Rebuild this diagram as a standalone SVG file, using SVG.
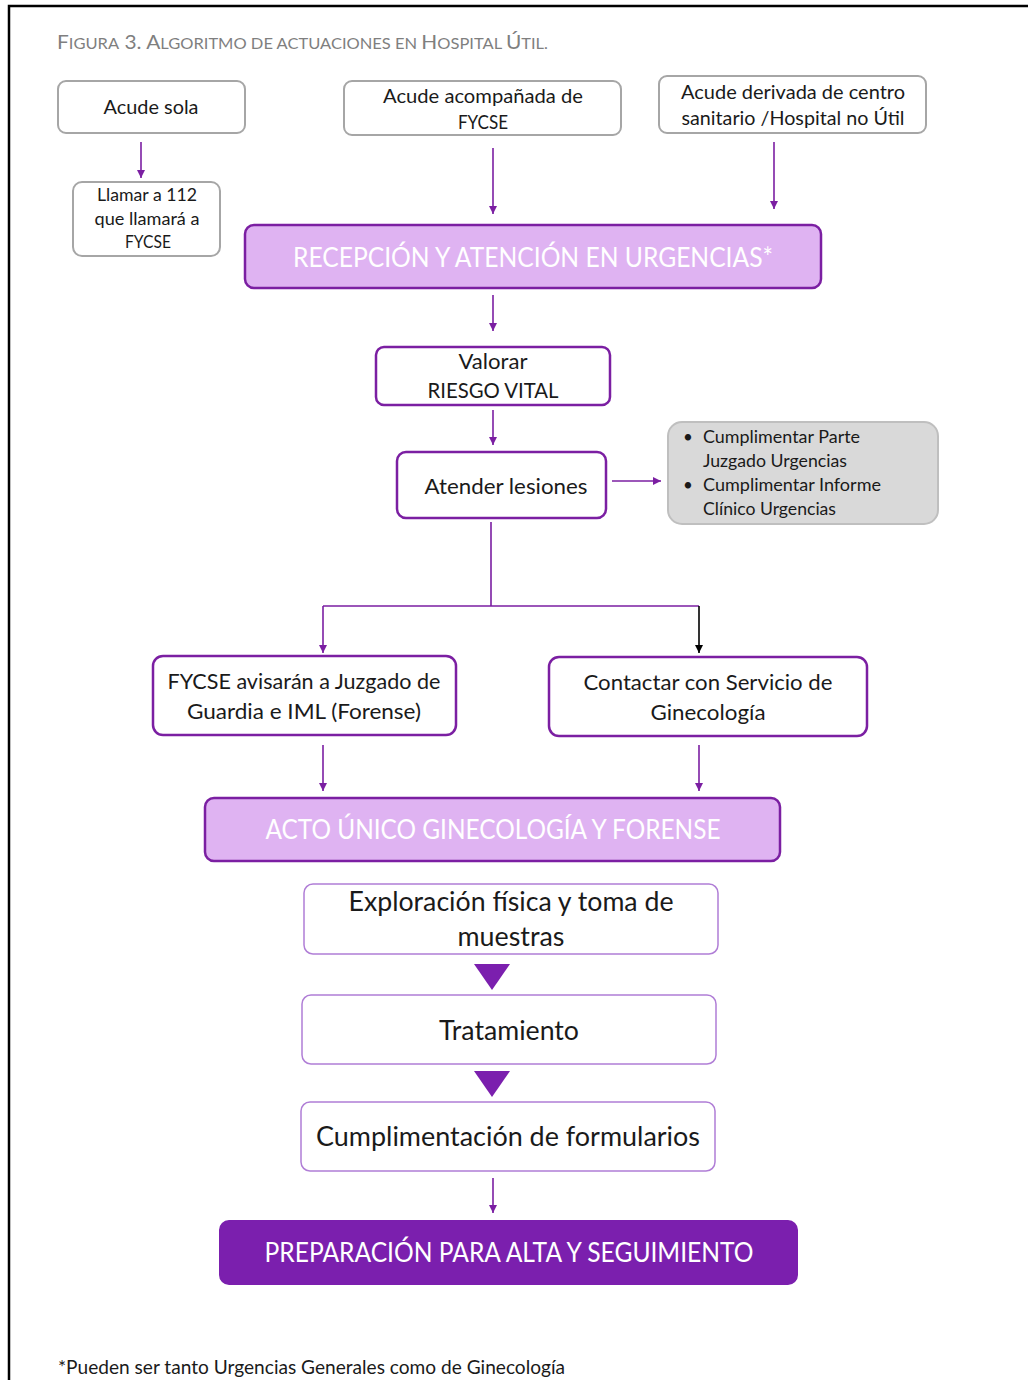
<svg xmlns="http://www.w3.org/2000/svg" width="1028" height="1380" viewBox="0 0 1028 1380">
<style>
text{font-family:Lato,"Open Sans","Liberation Sans",sans-serif;fill:#1a1a1a}
.title{fill:#7f7f7f}
.gb{fill:#fff;stroke:#a6a6a6;stroke-width:2}
.pb{fill:#fff;stroke:#7b1fa2;stroke-width:2.5}
.lb{fill:#fff;stroke:#b07ed6;stroke-width:1.5}
.hb{fill:#dfb3f2;stroke:#7b1fa2;stroke-width:2.5}
.db{fill:#7b1fae;stroke:#7b1fae;stroke-width:2}
.grey{fill:#d9d9d9;stroke:#bfbfbf;stroke-width:2}
.wt{fill:#fff}
.c{stroke:#7b1fa2;stroke-width:1.6;fill:none}
.ca{stroke:#7b1fa2;stroke-width:1.6;fill:none;marker-end:url(#ap)}
.ka{stroke:#000;stroke-width:1.6;fill:none;marker-end:url(#ak)}
.tri{fill:#7b1fae}
</style>
<defs>
<marker id="ap" markerUnits="userSpaceOnUse" markerWidth="9" markerHeight="8" refX="8" refY="4" orient="auto" viewBox="0 0 9 8"><path d="M0,0 L8,4 L0,8 z" fill="#7b1fa2"/></marker>
<marker id="ak" markerUnits="userSpaceOnUse" markerWidth="9" markerHeight="8" refX="8" refY="4" orient="auto" viewBox="0 0 9 8"><path d="M0,0 L8,4 L0,8 z" fill="#000"/></marker>
</defs>
<!-- page border -->
<path d="M9,1380 L9,6 L1028,6" fill="none" stroke="#000" stroke-width="2.5"/>
<!-- title -->
<text class="title" x="57" y="49" textLength="491" lengthAdjust="spacingAndGlyphs"><tspan font-size="19">F</tspan><tspan font-size="15">IGURA</tspan><tspan font-size="19"> 3. A</tspan><tspan font-size="15">LGORITMO DE ACTUACIONES EN </tspan><tspan font-size="19">H</tspan><tspan font-size="15">OSPITAL </tspan><tspan font-size="19">Ú</tspan><tspan font-size="15">TIL.</tspan></text>

<g id="connectors">
<line class="ca" x1="141" y1="142" x2="141" y2="178"/>
<line class="ca" x1="493" y1="148" x2="493" y2="214"/>
<line class="ca" x1="774" y1="142" x2="774" y2="209"/>
<line class="ca" x1="493" y1="295" x2="493" y2="331"/>
<line class="ca" x1="493" y1="410" x2="493" y2="445"/>
<line class="ca" x1="612" y1="481" x2="661" y2="481"/>
<path class="c" d="M491,522 L491,606 M323,606 L699,606"/>
<line class="ca" x1="323" y1="606" x2="323" y2="653"/>
<line class="ka" x1="699" y1="606" x2="699" y2="653"/>
<line class="ca" x1="323" y1="745" x2="323" y2="791"/>
<line class="ca" x1="699" y1="745" x2="699" y2="791"/>
<line class="ca" x1="493" y1="1178" x2="493" y2="1213"/>
<path class="tri" d="M474,964 L510,964 L492,990 z"/>
<path class="tri" d="M474,1071 L510,1071 L492,1097 z"/>
</g>

<g id="acude-sola"><rect class="gb" x="58" y="81" width="187" height="52" rx="8"/>
<text x="151" y="114" font-size="20" text-anchor="middle" textLength="95" lengthAdjust="spacingAndGlyphs">Acude sola</text></g>

<g id="acude-acompanada"><rect class="gb" x="344" y="81" width="277" height="54" rx="8"/>
<text x="483" y="103" font-size="20" text-anchor="middle" textLength="200" lengthAdjust="spacingAndGlyphs">Acude acompañada de</text>
<text x="483" y="129" font-size="20" text-anchor="middle" textLength="50" lengthAdjust="spacingAndGlyphs">FYCSE</text></g>

<g id="acude-derivada"><rect class="gb" x="659" y="76" width="267" height="57" rx="8"/>
<text x="793" y="99" font-size="20" text-anchor="middle" textLength="224" lengthAdjust="spacingAndGlyphs">Acude derivada de centro</text>
<text x="793" y="125" font-size="20" text-anchor="middle" textLength="223" lengthAdjust="spacingAndGlyphs">sanitario /Hospital no Útil</text></g>

<g id="llamar"><rect class="gb" x="73" y="182" width="147" height="74" rx="9"/>
<text x="147" y="201" font-size="17" text-anchor="middle" textLength="100" lengthAdjust="spacingAndGlyphs">Llamar a 112</text>
<text x="147" y="225" font-size="17" text-anchor="middle" textLength="105" lengthAdjust="spacingAndGlyphs">que llamará a</text>
<text x="148" y="248" font-size="17" text-anchor="middle" textLength="46" lengthAdjust="spacingAndGlyphs">FYCSE</text></g>

<g id="recepcion"><rect class="hb" x="245" y="225" width="576" height="63" rx="9"/>
<text class="wt" x="533" y="267" font-size="26" text-anchor="middle" textLength="480" lengthAdjust="spacingAndGlyphs">RECEPCIÓN Y ATENCIÓN EN URGENCIAS*</text></g>

<g id="valorar"><rect class="pb" x="376" y="347" width="234" height="58" rx="8"/>
<text x="493" y="369" font-size="22" text-anchor="middle" textLength="69" lengthAdjust="spacingAndGlyphs">Valorar</text>
<text x="493" y="398" font-size="22" text-anchor="middle" textLength="131" lengthAdjust="spacingAndGlyphs">RIESGO VITAL</text></g>

<g id="atender"><rect class="pb" x="397" y="452" width="209" height="66" rx="9"/>
<text x="506" y="494" font-size="22" text-anchor="middle" textLength="163" lengthAdjust="spacingAndGlyphs">Atender lesiones</text></g>

<g id="cumplimentar"><rect class="grey" x="668" y="422" width="270" height="102" rx="14"/>
<text x="683" y="443" font-size="17">•</text>
<text x="703" y="443" font-size="17" textLength="157" lengthAdjust="spacingAndGlyphs">Cumplimentar Parte</text>
<text x="703" y="467" font-size="17" textLength="144" lengthAdjust="spacingAndGlyphs">Juzgado Urgencias</text>
<text x="683" y="491" font-size="17">•</text>
<text x="703" y="491" font-size="17" textLength="178" lengthAdjust="spacingAndGlyphs">Cumplimentar Informe</text>
<text x="703" y="515" font-size="17" textLength="133" lengthAdjust="spacingAndGlyphs">Clínico Urgencias</text></g>

<g id="fycse-avisaran"><rect class="pb" x="153" y="656" width="303" height="79" rx="10"/>
<text x="304" y="689" font-size="22" text-anchor="middle" textLength="273" lengthAdjust="spacingAndGlyphs">FYCSE avisarán a Juzgado de</text>
<text x="304" y="719" font-size="22" text-anchor="middle" textLength="234" lengthAdjust="spacingAndGlyphs">Guardia e IML (Forense)</text></g>

<g id="contactar"><rect class="pb" x="549" y="657" width="318" height="79" rx="10"/>
<text x="708" y="690" font-size="22" text-anchor="middle" textLength="249" lengthAdjust="spacingAndGlyphs">Contactar con Servicio de</text>
<text x="708" y="720" font-size="22" text-anchor="middle" textLength="115" lengthAdjust="spacingAndGlyphs">Ginecología</text></g>

<g id="acto-unico"><rect class="hb" x="205" y="798" width="575" height="63" rx="9"/>
<text class="wt" x="493" y="839" font-size="26" text-anchor="middle" textLength="455" lengthAdjust="spacingAndGlyphs">ACTO ÚNICO GINECOLOGÍA Y FORENSE</text></g>

<g id="exploracion"><rect class="lb" x="304" y="884" width="414" height="70" rx="9"/>
<text x="511" y="911" font-size="26" text-anchor="middle" textLength="325" lengthAdjust="spacingAndGlyphs">Exploración física y toma de</text>
<text x="511" y="946" font-size="26" text-anchor="middle" textLength="107" lengthAdjust="spacingAndGlyphs">muestras</text></g>

<g id="tratamiento"><rect class="lb" x="302" y="995" width="414" height="69" rx="9"/>
<text x="509" y="1040" font-size="26" text-anchor="middle" textLength="140" lengthAdjust="spacingAndGlyphs">Tratamiento</text></g>

<g id="cumplimentacion"><rect class="lb" x="301" y="1102" width="414" height="69" rx="9"/>
<text x="508" y="1146" font-size="26" text-anchor="middle" textLength="384" lengthAdjust="spacingAndGlyphs">Cumplimentación de formularios</text></g>

<g id="preparacion"><rect class="db" x="220" y="1221" width="577" height="63" rx="9"/>
<text class="wt" x="509" y="1262" font-size="26" text-anchor="middle" textLength="489" lengthAdjust="spacingAndGlyphs">PREPARACIÓN PARA ALTA Y SEGUIMIENTO</text></g>

<text x="58" y="1374" font-size="19" textLength="507" lengthAdjust="spacingAndGlyphs">*Pueden ser tanto Urgencias Generales como de Ginecología</text>
</svg>
